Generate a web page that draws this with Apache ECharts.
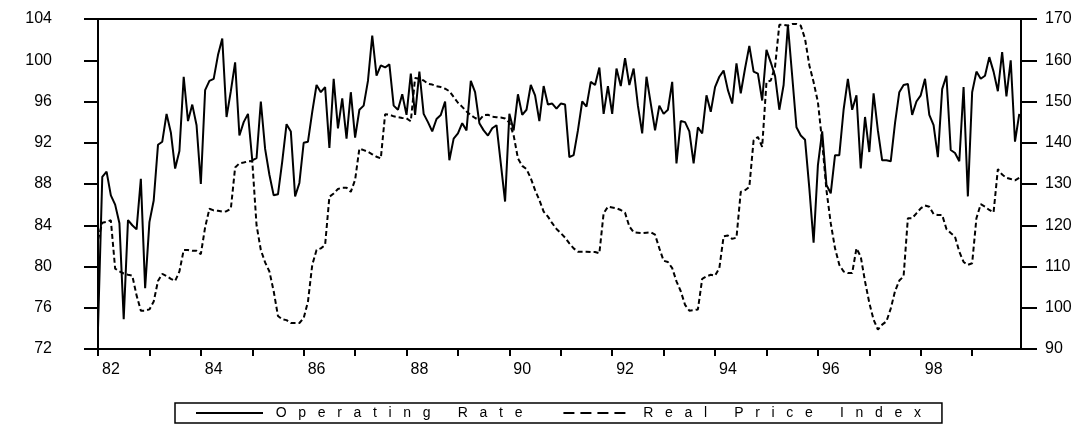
<!DOCTYPE html>
<html lang="en">
<head>
<meta charset="UTF-8">
<title>Operating Rate and Real Price Index</title>
<script src="https://cdn.jsdelivr.net/npm/echarts@6/dist/echarts.min.js"></script>
</head>
<body style="margin:0;background:#fff;">
<div id="main" style="width:1086px;height:428px;"></div>
<script type="text/javascript">
// monthly data, Jan 1982 .. Dec 1999
var startYear = 82;
var operatingRate = [
  74.0, 88.7, 89.2, 86.9, 86.0, 84.2, 74.9, 84.5, 84.0, 83.6, 88.5, 77.9,
  84.3, 86.4, 91.8, 92.1, 94.8, 93.0, 89.5, 91.2, 98.4, 94.1, 95.7, 93.7,
  88.0, 97.1, 98.0, 98.2, 100.5, 102.1, 94.5, 97.0, 99.8, 92.7, 94.0, 94.8,
  90.3, 90.5, 96.0, 91.4, 88.9, 86.9, 87.0, 90.2, 93.8, 93.1, 86.8, 88.1,
  92.0, 92.1, 95.0, 97.6, 96.9, 97.4, 91.5, 98.2, 93.4, 96.3, 92.4, 96.9,
  92.5, 95.2, 95.6, 98.0, 102.4, 98.5, 99.5, 99.3, 99.6, 95.6, 95.2, 96.7,
  94.7, 98.7, 94.7, 98.9, 94.8, 94.0, 93.1, 94.3, 94.7, 96.0, 90.3, 92.4,
  92.9, 93.9, 93.2, 98.0, 96.9, 93.9, 93.2, 92.7, 93.4, 93.7, 90.0, 86.3,
  94.8, 93.2, 96.7, 94.7, 95.2, 97.6, 96.6, 94.1, 97.5, 95.7, 95.8, 95.3,
  95.8, 95.7, 90.6, 90.8, 93.2, 96.0, 95.5, 97.9, 97.6, 99.3, 94.8, 97.5,
  94.8, 99.2, 97.5, 100.2, 97.6, 99.2, 95.6, 92.9, 98.4, 95.8, 93.2, 95.6,
  94.8, 95.2, 97.9, 90.0, 94.1, 94.0, 93.1, 90.0, 93.5, 92.9, 96.6, 95.0,
  97.4, 98.4, 99.0, 97.1, 95.8, 99.7, 96.8, 99.2, 101.4, 98.9, 98.7, 96.1,
  101.0, 99.8, 98.5, 95.2, 97.6, 103.4, 98.5, 93.5, 92.7, 92.3, 87.6, 82.3,
  89.8, 93.1, 87.9, 87.1, 90.8, 90.8, 95.2, 98.2, 95.2, 96.6, 89.5, 94.5,
  91.1, 96.8, 93.2, 90.3, 90.3, 90.2, 93.9, 96.9, 97.6, 97.7, 94.7, 96.0,
  96.6, 98.2, 94.7, 93.7, 90.6, 97.2, 98.5, 91.3, 91.0, 90.2, 97.4, 86.8,
  96.9, 98.9, 98.2, 98.5, 100.3, 98.9, 97.0, 100.8, 96.5, 100.0, 92.1, 94.8
];
var realPriceIndex = [
  116.5, 120.6, 120.8, 121.2, 109.5, 108.8, 108.3, 108.0, 107.8, 103.0, 99.3, 99.3,
  99.6, 101.5, 106.5, 108.2, 107.7, 107.0, 106.5, 108.8, 114.0, 114.0, 113.8, 113.8,
  113.0, 119.5, 124.0, 123.6, 123.5, 123.3, 123.4, 124.0, 134.0, 135.0, 135.2, 135.5,
  135.6, 120.0, 114.0, 111.0, 108.8, 104.0, 98.0, 97.2, 97.0, 96.3, 96.3, 96.3,
  97.5, 101.5, 110.4, 114.0, 114.4, 115.2, 126.9, 127.7, 128.8, 129.1, 129.1, 128.1,
  131.0, 138.6, 138.2, 137.8, 137.2, 136.6, 136.2, 146.9, 146.8, 146.4, 146.2, 146.0,
  145.9, 145.2, 155.7, 155.5, 155.1, 154.3, 154.1, 153.7, 153.5, 153.1, 152.5, 151.1,
  149.7, 148.7, 147.6, 146.7, 146.0, 145.5, 146.7, 146.8, 146.3, 146.2, 146.1, 145.9,
  144.9, 141.8, 136.2, 134.4, 133.6, 131.4, 128.5, 126.1, 123.3, 122.1, 120.5, 119.1,
  118.1, 117.0, 115.6, 114.4, 113.6, 113.6, 113.6, 113.5, 113.5, 113.2, 122.9, 124.5,
  124.3, 124.1, 123.7, 123.0, 119.7, 118.3, 118.2, 118.1, 118.2, 118.3, 117.7, 114.4,
  111.4, 111.1, 109.6, 106.4, 104.0, 100.7, 99.3, 99.4, 99.6, 107.0, 107.6, 108.0,
  107.8, 109.6, 117.3, 117.5, 116.7, 117.0, 128.1, 128.5, 129.3, 140.6, 141.4, 139.0,
  154.7, 155.1, 158.4, 168.6, 168.6, 168.4, 168.8, 168.8, 168.4, 165.2, 158.8, 154.7,
  149.9, 140.2, 128.5, 120.5, 114.4, 110.4, 108.8, 108.4, 108.4, 114.4, 112.4, 106.4,
  101.2, 97.1, 94.7, 95.9, 96.7, 99.8, 104.0, 106.6, 107.6, 121.7, 121.7, 122.9,
  124.1, 124.8, 124.5, 122.7, 122.5, 122.5, 119.1, 118.1, 117.2, 113.6, 111.1, 110.4,
  110.8, 121.7, 125.1, 124.5, 123.7, 123.1, 133.6, 132.3, 131.5, 131.2, 130.9, 131.5
];
var yearTicks = [82, 83, 84, 85, 86, 87, 88, 89, 90, 91, 92, 93, 94, 95, 96, 97, 98, 99];
var yearLabels = [82, 84, 86, 88, 90, 92, 94, 96, 98];

function toPoints(arr) {
    return arr.map(function (v, i) { return [startYear + i / 12, v]; });
}

var myChart = echarts.init(document.getElementById('main'));
var font = "'Liberation Sans', Arial, sans-serif";

var option = {
    animation: false,
    backgroundColor: '#fff',
    grid: {
        left: 98, right: 65, top: 19, bottom: 79,
        show: true, borderColor: '#000', borderWidth: 2
    },
    legend: {
        left: 175, top: 403,
        padding: [3, 21, 3, 20],
        borderColor: '#000', borderWidth: 1.5,
        itemWidth: 67, itemHeight: 12, itemGap: 40,
        // hide the little circle the line legend draws
        itemStyle: { color: 'rgba(0,0,0,0)', borderWidth: 0, opacity: 0 },
        textStyle: { fontFamily: font, fontSize: 14, color: '#000' },
        formatter: function (name) { return '  ' + name.split('').join('   '); },
        data: [
            { name: 'Operating Rate' },
            { name: 'Real Price Index', lineStyle: { type: [11, 6], width: 2 } }
        ]
    },
    xAxis: {
        type: 'value', min: 82, max: 99.95,
        splitLine: { show: false },
        axisLine: { lineStyle: { color: '#000', width: 2 } },
        axisTick: { customValues: yearTicks, length: 7, lineStyle: { color: '#000', width: 2 } },
        axisLabel: {
            customValues: yearLabels, margin: 13, align: 'left', padding: [0, 0, 0, 4],
            fontFamily: font, fontSize: 16, color: '#000'
        }
    },
    yAxis: [
        {
            type: 'value', min: 72, max: 104, interval: 4, position: 'left',
            splitLine: { show: false },
            axisLine: { show: true, lineStyle: { color: '#000', width: 2 } },
            axisTick: { show: true, length: 14, lineStyle: { color: '#000', width: 2 } },
            axisLabel: { margin: 46, padding: [0, 0, 5, 0], fontFamily: font, fontSize: 16, color: '#000' }
        },
        {
            type: 'value', min: 90, max: 170, interval: 10, position: 'right',
            splitLine: { show: false },
            axisLine: { show: true, lineStyle: { color: '#000', width: 2 } },
            axisTick: { show: true, length: 16, lineStyle: { color: '#000', width: 2 } },
            axisLabel: { margin: 24, padding: [0, 0, 5, 0], fontFamily: font, fontSize: 16, color: '#000' }
        }
    ],
    series: [
        {
            name: 'Operating Rate', type: 'line', yAxisIndex: 0,
            symbol: 'none',
            lineStyle: { color: '#000', width: 2 },
            itemStyle: { color: '#000' },
            data: toPoints(operatingRate)
        },
        {
            name: 'Real Price Index', type: 'line', yAxisIndex: 1,
            symbol: 'none',
            lineStyle: { color: '#000', width: 2, type: [5, 3] },
            itemStyle: { color: '#000' },
            data: toPoints(realPriceIndex)
        }
    ]
};

myChart.setOption(option);
</script>
</body>
</html>
